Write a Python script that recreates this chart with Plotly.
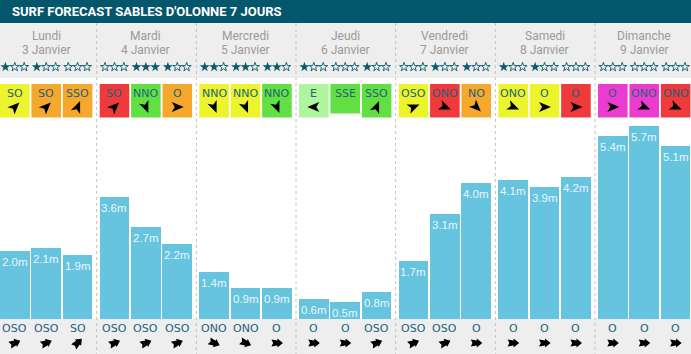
import math
import plotly.graph_objects as go

# ---------------- data ----------------
title = "SURF FORECAST SABLES D'OLONNE 7 JOURS"
days = ["Lundi", "Mardi", "Mercredi", "Jeudi", "Vendredi", "Samedi", "Dimanche"]
dates = ["3 Janvier", "4 Janvier", "5 Janvier", "6 Janvier", "7 Janvier", "8 Janvier", "9 Janvier"]
wave_m = [2.0, 2.1, 1.9, 3.6, 2.7, 2.2, 1.4, 0.9, 0.9, 0.6, 0.5, 0.8,
          1.7, 3.1, 4.0, 4.1, 3.9, 4.2, 5.4, 5.7, 5.1]
stars = [1, 1, 0, 0, 3, 1, 2, 2, 2, 1, 0, 1, 0, 1, 1, 1, 1, 0, 0, 0, 0]
wind_dir = ["SO", "SO", "SSO", "SO", "NNO", "O", "NNO", "NNO", "NNO", "E", "SSE", "SSO",
            "OSO", "ONO", "NO", "ONO", "O", "O", "O", "ONO", "ONO"]
wind_level = ["yellow", "orange", "orange", "red", "green", "orange", "yellow", "yellow", "green",
              "lightgreen", "green", "green", "yellow", "red", "orange", "yellow", "yellow", "red",
              "magenta", "magenta", "red"]
wind_arrow_shown = [True] * 10 + [False] + [True] * 10
swell_dir = ["OSO", "OSO", "SO", "OSO", "OSO", "OSO", "ONO", "ONO", "O", "O", "O", "OSO",
             "OSO", "OSO", "O", "O", "O", "O", "O", "O", "O"]

# ---------------- styles ----------------
W, H = 691, 354
level_colors = {"yellow": "#edf42c", "orange": "#f6a82d", "red": "#f0393a",
                "green": "#62e043", "lightgreen": "#aef59d", "magenta": "#ec3ccf"}
compass = {"N": 0, "NNE": 22.5, "NE": 45, "ENE": 67.5, "E": 90, "ESE": 112.5, "SE": 135,
           "SSE": 157.5, "S": 180, "SSO": 202.5, "SO": 225, "OSO": 247.5, "O": 270,
           "ONO": 292.5, "NO": 315, "NNO": 337.5}
BAR = "#66c4df"
TEAL = "#04566b"
GREY = "#eeeeee"
TXT = "#22627a"
STAR = "#0b5a6f"

day_w = 99.67
step = 31.4
bw = 29.6
base_px = 319.0
px_per_m = 33.9
star_step = 9.4

dart = [(0, -6.5), (5, 5.5), (0, 2.5), (-5, 5.5)]
fat = [(0, -6), (4.5, -0.5), (2.6, -0.5), (3.6, 5.5), (0, 3.8), (-3.6, 5.5), (-2.6, -0.5), (-4.5, -0.5)]


def glyph_path(tpl, cx, cy, deg):
    t = math.radians(deg)
    c, s = math.cos(t), math.sin(t)
    pts = [(cx + x * c - y * s, cy + x * s + y * c) for x, y in tpl]
    return "M " + " L ".join(f"{px:.2f},{py:.2f}" for px, py in pts) + " Z"


n = len(wave_m)
day_idx = [i // 3 for i in range(n)]
centers = [day_idx[i] * day_w + (i % 3) * step + bw / 2 for i in range(n)]
day_centers = [d * day_w + step + bw / 2 for d in range(len(days))]

fig = go.Figure()

fig.add_trace(go.Bar(x=centers, y=wave_m, width=bw, marker=dict(color=BAR, line=dict(width=0)),
                     hoverinfo="skip", showlegend=False))

fx, ox = [], []
for i in range(n):
    for k in range(3):
        xs = centers[i] + (k - 1) * star_step
        (fx if k < stars[i] else ox).append(xs)
fig.add_trace(go.Scatter(x=fx, y=[67] * len(fx), yaxis="y2", mode="markers",
                         marker=dict(symbol="star", size=7.6, color=STAR, line=dict(width=0)),
                         hoverinfo="skip", showlegend=False))
fig.add_trace(go.Scatter(x=ox, y=[67] * len(ox), yaxis="y2", mode="markers",
                         marker=dict(symbol="star-open", size=6.8, color=STAR, line=dict(width=0.9, color=STAR)),
                         hoverinfo="skip", showlegend=False))

shapes = []
shapes.append(dict(type="rect", xref="paper", yref="y2", x0=0, x1=1, y0=0, y1=23,
                   fillcolor=TEAL, line=dict(width=0), layer="below"))
shapes.append(dict(type="rect", xref="paper", yref="y2", x0=0, x1=1, y0=23, y1=78,
                   fillcolor=GREY, line=dict(width=0), layer="below"))
shapes.append(dict(type="rect", xref="paper", yref="y2", x0=0, x1=1, y0=base_px, y1=H,
                   fillcolor=GREY, line=dict(width=0), layer="below"))
for d in range(1, len(days)):
    xs = d * day_w - 3.0
    shapes.append(dict(type="line", xref="x", yref="y2", x0=xs, x1=xs, y0=23, y1=H,
                       line=dict(color="#c2c2c2", width=1, dash="3px,3px"), layer="above"))
for i in range(n):
    y1 = 117.5 if wind_arrow_shown[i] else 113.5
    shapes.append(dict(type="rect", xref="x", yref="y2", x0=centers[i] - bw / 2, x1=centers[i] + bw / 2,
                       y0=84, y1=y1, fillcolor=level_colors[wind_level[i]], line=dict(width=0),
                       layer="below"))
    if wind_arrow_shown[i]:
        shapes.append(dict(type="path", xref="x", yref="y2",
                           path=glyph_path(dart, centers[i], 107, (compass[wind_dir[i]] + 180) % 360),
                           fillcolor="black", line=dict(width=0), layer="above"))
    shapes.append(dict(type="path", xref="x", yref="y2",
                       path=glyph_path(fat, centers[i], 343, (compass[swell_dir[i]] + 180) % 360),
                       fillcolor="black", line=dict(width=0), layer="above"))

annotations = []
annotations.append(dict(text=title, x=10, y=11.5, xref="x", yref="y2", xanchor="left", yanchor="middle",
                        showarrow=False, font=dict(family="Roboto", size=13, color="white", weight=700)))
for d in range(len(days)):
    annotations.append(dict(text=days[d], x=day_centers[d], y=36, xref="x", yref="y2", showarrow=False,
                            font=dict(family="Roboto", size=12, color="#9a9a9a")))
    annotations.append(dict(text=dates[d], x=day_centers[d], y=50, xref="x", yref="y2", showarrow=False,
                            font=dict(family="Roboto", size=12, color="#9a9a9a")))
for i in range(n):
    annotations.append(dict(text=wind_dir[i], x=centers[i], y=93, xref="x", yref="y2", showarrow=False,
                            font=dict(family="DejaVu Sans", size=11, color=TXT)))
    annotations.append(dict(text=f"{wave_m[i]:.1f}m", x=centers[i], y=wave_m[i], xref="x", yref="y",
                            yanchor="top", yshift=-3, showarrow=False,
                            font=dict(family="Liberation Sans", size=11.5, color="#e9f6fb")))
    annotations.append(dict(text=swell_dir[i], x=centers[i], y=328, xref="x", yref="y2", showarrow=False,
                            font=dict(family="DejaVu Sans", size=11, color=TXT)))

fig.update_layout(
    width=W, height=H, margin=dict(l=0, r=0, t=0, b=0),
    paper_bgcolor="white", plot_bgcolor="white",
    xaxis=dict(range=[0, W], visible=False, fixedrange=True),
    yaxis=dict(range=[-(H - base_px) / px_per_m, base_px / px_per_m], visible=False, fixedrange=True),
    yaxis2=dict(range=[H, 0], overlaying="y", visible=False, fixedrange=True),
    shapes=shapes, annotations=annotations, showlegend=False, bargap=0,
)

fig.write_html("out.html")
